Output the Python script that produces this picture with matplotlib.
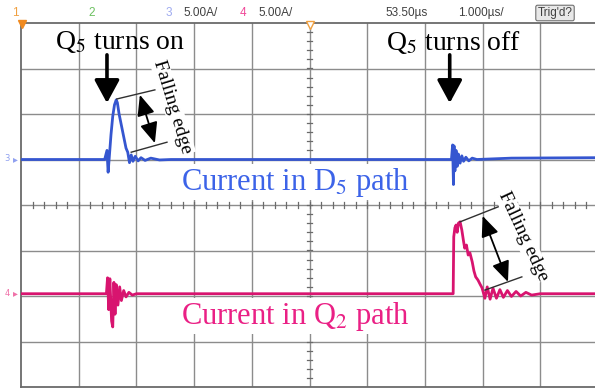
import numpy as np
import matplotlib
matplotlib.use("Agg")
from matplotlib import pyplot as plt

plt.rcParams['font.family'] = ['Liberation Serif', 'DejaVu Serif']
plt.rcParams['mathtext.fontset'] = 'stix'

# scope traces, time in divisions (1 us/div), amplitude in divisions (5 A/div)
t_d5 = [0.0, 1.45, 1.49, 1.51, 1.53, 1.56, 1.59, 1.62, 1.65, 1.67, 1.70, 1.74, 1.78,
        1.82, 1.85, 1.88, 1.91, 1.94, 1.98, 2.03, 2.08, 2.15, 2.25, 2.4, 2.6,
        7.46, 7.48, 7.495, 7.505, 7.52, 7.54, 7.56, 7.58, 7.61, 7.64, 7.67, 7.71,
        7.76, 7.82, 7.9, 8.5, 10.0]
v_d5 = [5.0, 5.0, 5.2, 4.72, 5.05, 5.55, 5.95, 6.2, 6.31, 6.25, 6.0, 5.75, 5.5,
        5.25, 5.16, 4.93, 5.1, 4.96, 5.07, 4.97, 5.04, 4.98, 5.03, 4.99, 5.0,
        5.0, 5.32, 4.45, 5.3, 4.75, 5.2, 4.85, 5.12, 4.92, 5.08, 4.96, 5.05,
        4.97, 5.03, 5.0, 5.03, 5.04]

t_q2 = [0.0, 1.48, 1.50, 1.52, 1.54, 1.57, 1.59, 1.61, 1.63, 1.65, 1.68, 1.71,
        1.74, 1.78, 1.82, 1.87, 1.93, 2.0,
        7.49, 7.50, 7.52, 7.54, 7.56, 7.58, 7.61, 7.64, 7.67, 7.69, 7.72, 7.75,
        7.78, 7.82, 7.85, 7.88, 7.92, 7.96, 7.99, 8.04, 8.08, 8.13, 8.18, 8.24,
        8.30, 8.36, 8.43, 8.50, 8.58, 8.66, 8.75, 8.85, 9.0, 10.0]
v_q2 = [2.05, 2.05, 2.4, 1.7, 2.38, 1.45, 1.32, 2.3, 1.6, 2.25, 1.8, 2.2,
        1.9, 2.12, 1.98, 2.08, 2.02, 2.05,
        2.05, 3.3, 3.5, 3.56, 3.4, 3.6, 3.63, 3.45, 3.2, 3.05, 3.12, 2.9,
        2.95, 2.75, 2.55, 2.42, 2.35, 2.25, 2.18, 1.95, 2.2, 1.93, 2.17, 1.95,
        2.14, 1.97, 2.12, 1.99, 2.1, 2.0, 2.08, 2.02, 2.05, 2.05]

header_items = [
    ("1", 12, '#f0a040'), ("2", 88, '#6cc060'), ("3", 166, '#9fabf0'),
    ("5.00A/", 183, '#404040'), ("4", 240, '#f04898'), ("5.00A/", 258, '#404040'),
    ("53.50µs", 385, '#404040'), ("1.000µs/", 458, '#404040'),
]

blue = '#3556d0'
pink = '#d8146f'

fig = plt.figure(figsize=(5.95, 3.92), dpi=100)
fig.patch.set_facecolor('white')
ax = fig.add_axes([21 / 595, 5 / 392, 577 / 595, 364 / 392])
ax.set_xlim(0, 10)
ax.set_ylim(0, 8)
ax.set_xticks([])
ax.set_yticks([])
for s in ax.spines.values():
    s.set_color('#6a6a6a')
    s.set_linewidth(1.3)

# graticule
for x in range(1, 10):
    ax.axvline(x, color='#8c8c8c', lw=1.0, zorder=1)
for y in range(1, 8):
    ax.axhline(y, color='#8c8c8c', lw=1.0, zorder=1)
for x in np.arange(0.2, 10, 0.2):
    ax.plot([x, x], [3.93, 4.07], color='#6a6a6a', lw=0.9, zorder=1)
for y in np.arange(0.2, 8, 0.2):
    ax.plot([4.95, 5.05], [y, y], color='#6a6a6a', lw=0.9, zorder=1)

ax.plot(t_d5, v_d5, color=blue, lw=2.0, zorder=3)
ax.plot(t_q2, v_q2, color=pink, lw=2.0, zorder=3)

# trigger markers
ax.plot([0.02], [7.97], marker='v', color='#f08a20', ms=6, clip_on=False, zorder=4)
ax.plot([5.0], [7.96], marker='v', mfc='white', mec='#f0a040', ms=6, clip_on=False, zorder=4)

# channel markers
fig.text(7 / 595, 1 - 159 / 392, "3", color='#8fa0f0', fontsize=6, family='DejaVu Sans',
         ha='center', va='center')
fig.text(15 / 595, 1 - 159 / 392, "▸", color='#8fa0f0', fontsize=7, family='DejaVu Sans',
         ha='center', va='center')
fig.text(7 / 595, 1 - 293 / 392, "4", color='#f070a8', fontsize=6, family='DejaVu Sans',
         ha='center', va='center')
fig.text(15 / 595, 1 - 293 / 392, "▸", color='#f070a8', fontsize=7, family='DejaVu Sans',
         ha='center', va='center')

# header bar
for txt, xp, col in header_items:
    fig.text(xp / 595, 1 - 13 / 392, txt, color=col, fontsize=8.5,
             family='Liberation Sans', ha='left', va='center')
fig.text(555 / 595, 1 - 13 / 392, "Trig'd?", color='#404040', fontsize=8.5,
         family='Liberation Sans', ha='center', va='center',
         bbox=dict(boxstyle='round,pad=0.15', fc='#e8e8e8', ec='#707070', lw=0.8))

# switching annotations
big_arrow = dict(arrowstyle='-|>,head_length=0.7,head_width=0.38', lw=2.6,
                 color='black', mutation_scale=20, shrinkA=0, shrinkB=0)
ax.text(1.72, 7.58, "Q$_5$ turns on", fontsize=20, ha='center', va='center', zorder=5)
ax.annotate("", xy=(1.49, 6.24), xytext=(1.49, 7.30), arrowprops=big_arrow, zorder=5)
ax.text(7.49, 7.58, "Q$_5$ turns off", fontsize=20, ha='center', va='center', zorder=5)
ax.annotate("", xy=(7.43, 6.24), xytext=(7.43, 7.30), arrowprops=big_arrow, zorder=5)

edge_arrow = dict(arrowstyle='<|-|>,head_length=0.7,head_width=0.3', lw=1.3,
                  color='black', mutation_scale=18, shrinkA=0, shrinkB=0)
ax.plot([1.66, 2.32], [6.33, 6.53], color='#303030', lw=1.0, zorder=4)
ax.plot([1.91, 2.53], [5.16, 5.38], color='#303030', lw=1.0, zorder=4)
ax.annotate("", xy=(2.32, 5.36), xytext=(2.06, 6.42), arrowprops=edge_arrow, zorder=5)
ax.text(2.63, 6.15, "Falling edge", fontsize=14, rotation=-73, ha='center', va='center',
        rotation_mode='anchor', zorder=5,
        bbox=dict(fc='white', ec='none', pad=0.5))

ax.plot([7.61, 8.27], [3.63, 3.96], color='#303030', lw=1.0, zorder=4)
ax.plot([8.04, 8.68], [2.13, 2.42], color='#303030', lw=1.0, zorder=4)
ax.annotate("", xy=(8.44, 2.31), xytext=(8.0, 3.76), arrowprops=edge_arrow, zorder=5)
ax.text(8.70, 3.32, "Falling edge", fontsize=14, rotation=-65, ha='center', va='center',
        rotation_mode='anchor', zorder=5,
        bbox=dict(fc='white', ec='none', pad=0.5))

ax.text(4.75, 4.5, "Current in D$_5$ path", fontsize=22, color='#3c63e8',
        ha='center', va='center', zorder=5, bbox=dict(fc='white', ec='none', pad=1))
ax.text(4.75, 1.56, "Current in Q$_2$ path", fontsize=22, color='#ea2085',
        ha='center', va='center', zorder=5, bbox=dict(fc='white', ec='none', pad=1))

fig.savefig("out.png", dpi=100)
